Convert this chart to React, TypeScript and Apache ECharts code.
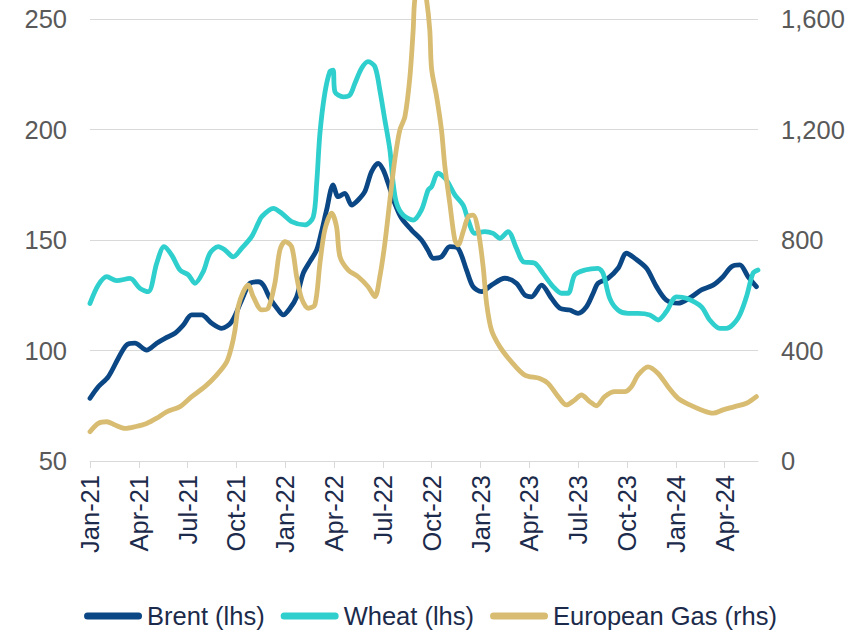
import React, { useEffect, useRef } from "react";
import * as echarts from "echarts";

// x = months since Jan-2021, y = value
const brentPoints: [number, number][] = [
  [0, 78.4], [0.51, 83.6], [1.12, 88.1], [1.74, 96.5], [2.25, 102.5], [2.76, 103.3],
  [3.48, 100.2], [4.1, 103.3], [4.61, 105.5], [5.22, 107.8], [5.73, 111.5], [6.25, 116.1],
  [6.86, 116.1], [7.48, 112.3], [8.09, 110.0], [8.7, 113.0], [9.32, 122.8], [9.83, 130.4],
  [10.34, 131.1], [10.65, 129.6], [11.06, 123.6], [11.57, 118.3], [11.87, 116.1], [12.29, 119.1],
  [12.7, 124.3], [13.1, 134.9], [13.51, 140.2], [13.93, 145.5], [14.23, 153.8], [14.54, 163.6],
  [14.94, 174.9], [15.25, 169.6], [15.66, 171.1], [16.08, 165.8], [16.48, 168.1], [16.89, 171.9],
  [17.3, 180.9], [17.71, 184.7], [18.02, 181.7], [18.32, 175.7], [18.73, 166.6], [19.15, 159.8],
  [19.76, 154.5], [20.37, 150.0], [20.76, 145.5], [21.09, 141.7], [21.6, 142.4], [22.11, 147.0],
  [22.62, 146.2], [23.14, 136.4], [23.54, 128.9], [24.06, 126.6], [24.67, 129.6], [25.49, 132.7],
  [26.21, 130.4], [26.72, 125.1], [27.13, 124.3], [27.75, 129.6], [28.36, 123.6], [28.87, 119.1],
  [29.48, 118.3], [29.99, 116.8], [30.51, 119.8], [30.92, 125.9], [31.22, 130.4], [31.84, 132.7],
  [32.45, 137.2], [32.97, 144.0], [33.48, 141.7], [34.2, 137.2], [34.81, 128.9], [35.42, 122.8],
  [36.14, 121.4], [36.96, 124.3], [37.57, 127.4], [38.29, 129.6], [38.9, 133.4], [39.42, 137.9],
  [39.93, 138.7], [40.44, 133.4], [40.95, 128.9],
];

const wheatPoints: [number, number][] = [
  [0, 121.3], [0.51, 129.6], [1.03, 133.4], [1.64, 131.6], [2.46, 132.6], [3.07, 128.1],
  [3.58, 126.6], [4.1, 139.5], [4.55, 147.0], [5.02, 143.2], [5.53, 136.4], [6.04, 134.2],
  [6.45, 130.4], [6.96, 135.7], [7.37, 144.0], [7.88, 147.0], [8.29, 145.5], [8.8, 142.4],
  [9.32, 146.2], [9.93, 151.5], [10.34, 157.6], [10.55, 160.5], [11.26, 164.3], [11.78, 162.1],
  [12.39, 158.3], [13.21, 156.8], [13.72, 160.5], [13.93, 175.7], [14.13, 198.3], [14.43, 216.4],
  [14.74, 226.2], [14.94, 226.9], [15.05, 217.1], [15.56, 214.8], [15.97, 215.6], [16.28, 220.9],
  [16.69, 227.7], [17.09, 230.7], [17.51, 228.4], [17.81, 217.9], [18.12, 204.3], [18.43, 190.7],
  [18.63, 175.7], [18.84, 166.6], [19.24, 161.3], [19.86, 159.0], [20.37, 163.6], [20.78, 172.6],
  [20.99, 174.1], [21.39, 180.2], [21.91, 177.1], [22.42, 170.4], [22.93, 165.8], [23.24, 159.0],
  [23.65, 153.0], [24.26, 153.8], [24.77, 153.0], [25.18, 150.8], [25.69, 153.8], [26.21, 146.2],
  [26.62, 140.2], [27.33, 139.5], [27.84, 134.9], [28.46, 128.9], [28.97, 125.9], [29.38, 125.9],
  [29.79, 134.2], [30.41, 136.4], [31.22, 137.2], [31.53, 134.9], [31.94, 123.6], [32.45, 118.3],
  [33.07, 116.8], [33.68, 116.8], [34.4, 116.1], [34.91, 113.8], [35.42, 117.6], [36.04, 124.3],
  [36.65, 123.6], [37.57, 119.8], [38.08, 113.8], [38.7, 110.0], [39.11, 110.0], [39.82, 114.6],
  [40.34, 124.3], [40.74, 134.9], [41.05, 136.4],
];

const gasPoints: [number, number][] = [
  [0, 106], [0.51, 136], [1.03, 142], [1.54, 130], [2.15, 118], [2.76, 124], [3.48, 136],
  [4.1, 155], [4.71, 178], [5.53, 197], [6.25, 233], [7.06, 269], [7.78, 311], [8.4, 359],
  [8.7, 414], [8.91, 474], [9.11, 559], [9.42, 613], [9.72, 637], [10.03, 595], [10.55, 547],
  [10.95, 553], [11.36, 643], [11.67, 764], [11.98, 794], [12.39, 776], [12.7, 667], [13.0, 589],
  [13.41, 553], [13.82, 565], [14.13, 716], [14.43, 836], [14.85, 897], [15.15, 848], [15.36, 740],
  [15.87, 691], [16.48, 667], [17.09, 631], [17.51, 595], [17.81, 667], [18.12, 788], [18.43, 945],
  [18.73, 1090], [19.04, 1198], [19.35, 1246], [19.66, 1391], [19.86, 1560], [19.96, 1670],
  [20.33, 1780], [20.68, 1670], [20.88, 1560], [20.99, 1420], [21.3, 1319], [21.6, 1198],
  [21.81, 1065], [22.11, 933], [22.42, 800], [22.62, 782], [22.93, 830], [23.24, 884],
  [23.54, 890], [23.85, 836], [24.16, 703], [24.37, 571], [24.67, 474], [25.18, 414],
  [25.9, 359], [26.72, 311], [27.64, 299], [28.15, 281], [28.77, 233], [29.28, 203], [29.79, 221],
  [30.2, 239], [30.71, 215], [31.12, 200], [31.63, 233], [32.25, 251], [32.86, 251], [33.27, 269],
  [33.68, 311], [34.29, 341], [34.91, 317], [35.52, 269], [36.14, 227], [36.86, 203], [37.57, 185],
  [38.29, 173], [38.9, 185], [39.62, 197], [40.34, 209], [40.95, 233],
];

const quarterNames = ["Jan", "Apr", "Jul", "Oct"];
const seriesNames = ["Brent (lhs)", "Wheat (lhs)", "European Gas (rhs)"];
const seriesColors = ["#0b4784", "#2fcfcd", "#d8bc72"];
const leftTicks = { min: 50, max: 250, interval: 50 };
const rightTicks = { min: 0, max: 1600, interval: 400 };
const xRange = { min: 0, max: 41.05, interval: 3 };

const FONT = "'Liberation Sans', Arial, sans-serif";
const NAVY_TEXT = "#1c2b4b";
const GRAY_TEXT = "#595959";
const GRID_COLOR = "#d9d9d9";

const legendIcon =
  "path://M3.5,0 L54.5,0 A3.5,3.5 0 0 1 54.5,7 L3.5,7 A3.5,3.5 0 0 1 3.5,0 Z";

export default function App() {
  const ref = useRef<HTMLDivElement>(null);

  useEffect(() => {
    if (!ref.current) return;
    const chart = echarts.init(ref.current, undefined, { renderer: "svg" });
    const datasets = [brentPoints, wheatPoints, gasPoints];
    chart.setOption({
      animation: false,
      backgroundColor: "#ffffff",
      grid: { left: 90, right: 103, top: 19, bottom: 171, containLabel: false },
      legend: {
        data: seriesNames,
        top: 603,
        left: "center",
        padding: 0,
        icon: legendIcon,
        itemWidth: 58,
        itemHeight: 7,
        itemGap: 16,
        textStyle: { fontFamily: FONT, fontSize: 25.5, color: NAVY_TEXT, lineHeight: 26 },
      },
      xAxis: {
        type: "value",
        min: xRange.min,
        max: xRange.max,
        interval: xRange.interval,
        axisLine: { show: true, lineStyle: { color: GRID_COLOR, width: 1 } },
        axisTick: { show: true, length: 7, lineStyle: { color: GRID_COLOR } },
        splitLine: { show: false },
        axisLabel: {
          rotate: 90,
          margin: 14,
          fontFamily: FONT,
          fontSize: 25.5,
          color: NAVY_TEXT,
          showMaxLabel: false,
          formatter: (v: number) => {
            const i = Math.round(v);
            return quarterNames[(i / 3) % 4] + "-" + (21 + Math.floor(i / 12));
          },
        },
      },
      yAxis: [
        {
          type: "value",
          position: "left",
          min: leftTicks.min,
          max: leftTicks.max,
          interval: leftTicks.interval,
          axisLine: { show: false },
          axisTick: { show: false },
          splitLine: { show: true, lineStyle: { color: GRID_COLOR, width: 1 } },
          axisLabel: { fontFamily: FONT, fontSize: 25.5, color: GRAY_TEXT, margin: 23 },
        },
        {
          type: "value",
          position: "right",
          min: rightTicks.min,
          max: rightTicks.max,
          interval: rightTicks.interval,
          axisLine: { show: false },
          axisTick: { show: false },
          splitLine: { show: false },
          axisLabel: {
            fontFamily: FONT,
            fontSize: 25.5,
            color: GRAY_TEXT,
            margin: 23,
            formatter: (v: number) => v.toLocaleString("en-US"),
          },
        },
      ],
      series: seriesNames.map((name, i) => ({
        name,
        type: "line",
        yAxisIndex: i === 2 ? 1 : 0,
        data: datasets[i],
        showSymbol: false,
        symbol: "none",
        smooth: 0.3,
        clip: i !== 2,
        color: seriesColors[i],
        lineStyle: { width: 4.8, color: seriesColors[i], cap: "round", join: "round" },
        z: 2 + i,
      })),
    });
    return () => chart.dispose();
  }, []);

  return (
    <div
      ref={ref}
      style={{ position: "absolute", left: 0, top: 0, width: 861, height: 632 }}
    />
  );
}
